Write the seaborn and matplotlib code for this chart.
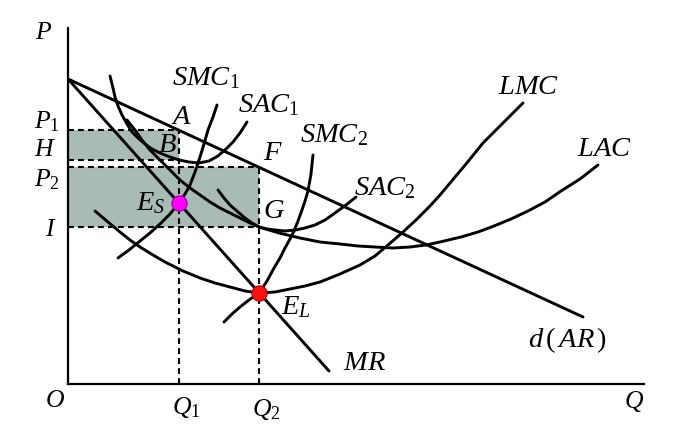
import numpy as np
import pandas as pd
import matplotlib
matplotlib.use("Agg")
import matplotlib.pyplot as plt
import seaborn as sns

# ---------------- data (Q, P in chart units) -------------
d_q = [0, 515]
d_p = [305, 67]
mr_q = [0, 261]
mr_p = [305, 13]

smc1_q = [50, 61, 72, 82, 92, 102, 111, 117, 122, 127, 132, 136, 140, 145, 149]
smc1_p = [126, 134, 143, 151, 160, 170, 181, 190, 199, 212, 227, 240, 254, 267, 279]

sac1_q = [42, 45, 47, 50, 54, 59, 64, 70, 77, 84, 92, 102, 111, 121, 131, 141, 150, 158, 165, 172, 179]
sac1_p = [308, 296, 287, 278, 269, 260, 252, 246, 240, 235, 231, 227, 224, 222, 221, 223, 228, 235, 242, 251, 262]

lac_q = [59, 63, 67, 74, 82, 90, 97, 105, 112, 122, 132, 142, 152, 162, 172, 182, 191, 211, 232,
         252, 272, 290, 307, 325, 342, 358, 372, 393, 410, 426, 443, 460, 477, 493, 512, 530]
lac_p = [264, 259, 254, 244, 234, 226, 219, 211, 204, 196, 189, 182, 176, 171, 166, 161, 157, 151, 146,
         142, 140, 138, 137, 136, 137, 139, 142, 147, 152, 158, 165, 173, 182, 193, 205, 219]

sac2_q = [150, 156, 162, 170, 177, 184, 191, 199, 207, 217, 227, 237, 247, 257, 267, 278, 288]
sac2_p = [194, 186, 179, 172, 166, 161, 157, 155, 154, 153, 154, 156, 159, 164, 171, 179, 187]

smc2_q = [156, 164, 172, 181, 191, 199, 206, 212, 217, 222, 226, 230, 234, 237, 240, 243, 245]
smc2_p = [62, 70, 77, 84, 91, 103, 116, 126, 136, 145, 153, 163, 174, 183, 193, 210, 229]

lmc_q = [27, 40, 52, 62, 72, 85, 97, 115, 132, 147, 162, 177, 191, 207, 222, 237, 252, 272, 292,
         307, 320, 335, 348, 362, 372, 382, 398, 415, 435, 455]
lmc_p = [173, 162, 152, 144, 137, 129, 122, 113, 106, 101, 97, 93, 91, 92, 95, 98, 102, 110, 119,
         128, 139, 152, 164, 178, 189, 201, 220, 241, 261, 281]

Q1, Q2 = 111, 191
P1, H, P2, I = 254, 224, 217, 157
ES = (111, 181)
EL = (191, 91)

axis_labels = ["P", "O", "Q", r"$P_1$", "$H$", r"$P_2$", "$I$", r"$Q_1$", r"$Q_2$"]
axis_label_pos = [(-25, 351), (-13, -17), (566, -18), (-21, 262), (-23, 234),
                  (-21, 204), (-17, 154), (118, -24), (198, -26)]

curve_labels = [r"$SMC_1$", r"$SAC_1$", r"$SMC_2$", r"$SAC_2$", "$LMC$", "$LAC$",
                r"$d\,(\,AR\,)$", "$MR$", "$A$", "$B$", "$F$", "$G$", r"$E_S$", r"$E_L$"]
curve_label_pos = [(138, 306), (201, 279), (266, 249), (317, 196), (461, 297), (536, 234),
                   (499, 44), (297, 21), (114, 266), (99, 239), (205, 231), (206, 173),
                   (83, 181), (228, 77)]

# ---------------- style ----------------
sns.set_theme(style="white")
plt.rcParams["font.family"] = ["Liberation Serif", "DejaVu Serif"]
plt.rcParams["text.color"] = "black"
plt.rcParams["mathtext.fontset"] = "custom"
plt.rcParams["mathtext.rm"] = "Liberation Serif"
plt.rcParams["mathtext.it"] = "Liberation Serif:italic"
plt.rcParams["mathtext.bf"] = "Liberation Serif:bold"

fig = plt.figure(figsize=(6.92, 4.43), dpi=100)
ax = fig.add_axes([68 / 692, 59 / 443, 576 / 692, 356 / 443])
ax.set_xlim(0, 576)
ax.set_ylim(0, 356)
for s in ["top", "right"]:
    ax.spines[s].set_visible(False)
for s in ["left", "bottom"]:
    ax.spines[s].set_color("black")
    ax.spines[s].set_linewidth(1.6)
ax.set_xticks([])
ax.set_yticks([])

# shaded profit rectangles
shade = "#a8bbb5"
ax.fill_between([0, Q1], [H, H], [P1, P1], color=shade, lw=0, zorder=0)
ax.fill_between([0, Q2], [I, I], [P2, P2], color=shade, lw=0, zorder=0)

dash = (0, (2.8, 2.0))
lwd = 1.5
for (xs, ys) in [([0, Q1], [P1, P1]), ([0, Q1], [H, H]), ([0, Q2], [P2, P2]),
                 ([0, Q2], [I, I]), ([Q1, Q1], [0, P1]), ([Q2, Q2], [0, P2])]:
    ax.plot(xs, ys, color="black", lw=lwd, linestyle=dash, zorder=1)

# curves
curves = [(d_q, d_p), (mr_q, mr_p), (smc1_q, smc1_p), (sac1_q, sac1_p), (lac_q, lac_p),
          (sac2_q, sac2_p), (smc2_q, smc2_p), (lmc_q, lmc_p)]
for qs, ps in curves:
    df = pd.DataFrame({"Q": qs, "P": ps})
    sns.lineplot(data=df, x="Q", y="P", sort=False, estimator=None, color="black",
                 lw=2.1, ax=ax, zorder=3)
for ln in ax.lines:
    ln.set_solid_joinstyle("round")

# equilibrium points
ax.plot([ES[0]], [ES[1]], "o", ms=11, color="#ff00ff", mec="#a0009a", mew=0.8, zorder=5)
ax.plot([EL[0]], [EL[1]], "o", ms=11, color="#ff1010", mec="#b00000", mew=0.8, zorder=5)

for t, (x, y) in zip(axis_labels, axis_label_pos):
    ax.text(x, y, t, fontsize=18.5, style="italic", color="black", ha="center", va="center", clip_on=False)
for t, (x, y) in zip(curve_labels, curve_label_pos):
    ax.text(x, y, t, fontsize=20.5, color="black", ha="center", va="center", clip_on=False)

ax.set_xlabel("")
ax.set_ylabel("")
fig.savefig("out.png", dpi=100)
